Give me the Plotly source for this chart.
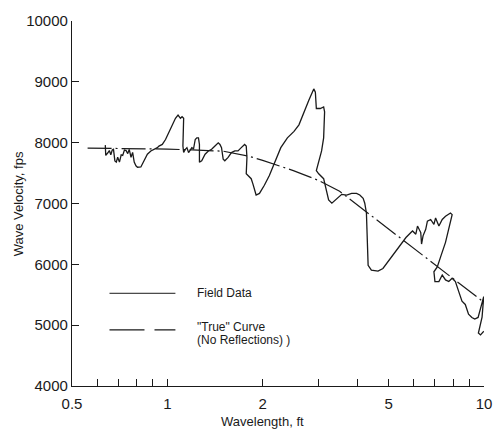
import plotly.graph_objects as go

# Field data (wavelength ft, velocity fps)
field_wavelength = [
    0.637, 0.639, 0.648, 0.656, 0.663, 0.670, 0.676, 0.683, 0.690, 0.697,
    0.706, 0.715, 0.723, 0.732, 0.741, 0.750, 0.758, 0.768, 0.777, 0.786,
    0.796, 0.805, 0.825, 0.845, 0.865, 0.887, 0.908, 0.930, 0.941, 0.964,
    0.987, 1.010, 1.036, 1.061, 1.081, 1.100, 1.113, 1.126, 1.120, 1.126,
    1.140, 1.153, 1.167, 1.195, 1.210, 1.225, 1.239, 1.254, 1.263, 1.263,
    1.284, 1.316, 1.348, 1.380, 1.414, 1.448, 1.466, 1.483, 1.501, 1.519,
    1.556, 1.594, 1.633, 1.672, 1.712, 1.754, 1.775, 1.784, 1.775, 1.840,
    1.862, 1.885, 1.907, 1.954, 2.025, 2.100, 2.176, 2.282, 2.394, 2.512,
    2.604, 2.699, 2.798, 2.900, 2.934, 2.955, 3.041, 3.116, 3.138, 3.116,
    3.070, 2.955, 3.006, 3.116, 3.175, 3.231, 3.308, 3.429, 3.554, 3.684,
    3.819, 3.958, 4.053, 4.153, 4.202, 4.253, 4.270, 4.306, 4.409, 4.627,
    4.796, 4.971, 5.212, 5.470, 5.670, 5.877, 5.948, 6.091, 6.166, 6.314,
    6.350, 6.420, 6.546, 6.626, 6.785, 6.948, 7.033, 7.204, 7.381, 7.559,
    7.836, 7.932, 7.559, 7.290, 7.120, 6.948, 7.000, 7.204, 7.381, 7.559,
    7.741, 7.932, 8.122, 8.317, 8.522, 8.727, 8.937, 9.157, 9.350, 9.580,
    9.860, 9.980, 9.860, 9.600, 9.750, 9.990,
]
field_velocity = [
    7960, 7790, 7830, 7870, 7800, 7880, 7890, 7700, 7680, 7760,
    7680, 7800, 7790, 7880, 7870, 7820, 7890, 7760, 7840, 7680,
    7620, 7596, 7600, 7700, 7810, 7864, 7890, 7918, 7944, 7971,
    8052, 8160, 8266, 8401, 8454, 8401, 8427, 8401, 7944, 7838,
    7891, 7918, 7838, 7918, 7900, 8052, 8079, 8079, 7971, 7680,
    7703, 7810, 7864, 7891, 7945, 7998, 7971, 7918, 7730, 7703,
    7757, 7837, 7864, 7864, 7918, 7971, 7945, 7757, 7488, 7408,
    7327, 7220, 7140, 7166, 7300, 7461, 7649, 7918, 8079, 8186,
    8293, 8508, 8696, 8884, 8830, 8562, 8562, 8589, 8508, 8079,
    7864, 7542, 7488, 7408, 7247, 7059, 7005, 7086, 7150, 7139,
    7166, 7166, 7139, 7086, 7005, 6844, 6361, 5985, 5905, 5889,
    5932, 6039, 6200, 6334, 6441, 6522, 6549, 6495, 6629, 6522,
    6334, 6468, 6576, 6710, 6737, 6656, 6763, 6629, 6737, 6790,
    6844, 6817, 6361, 6119, 5958, 5878, 5717, 5717, 5824, 5744,
    5717, 5771, 5717, 5556, 5395, 5341, 5180, 5127, 5100, 5127,
    5341, 5470, 5130, 4870, 4840, 4900,
]

# "True" curve (no reflections)
true_wavelength = [0.56, 0.8, 1.0, 1.2, 1.5, 1.8, 2.0, 2.5, 3.0, 3.5,
                   4.0, 4.5, 5.0, 6.0, 7.0, 8.0, 9.0, 10.0]
true_velocity = [7910, 7905, 7895, 7880, 7860, 7780, 7710, 7540, 7380, 7200,
                 6970, 6765, 6580, 6265, 5995, 5765, 5560, 5375]

x_tickvals = [0.5, 0.6, 0.7, 0.8, 0.9, 1, 2, 3, 4, 5, 6, 7, 8, 9, 10]
x_ticktext = ["0.5", "", "", "", "", "1", "2", "", "", "5", "", "", "", "", "10"]
y_tickvals = [4000, 5000, 6000, 7000, 8000, 9000, 10000]
y_ticktext = ["4000", "5000", "6000", "7000", "8000", "9000", "10000"]

FONT = "Liberation Sans, Arial, sans-serif"
INK = "#1a1a1a"

fig = go.Figure()
fig.add_trace(go.Scatter(
    x=true_wavelength, y=true_velocity, mode="lines",
    line=dict(color=INK, width=1.2, dash="24px,4px,2px,4px"),
    showlegend=False, hoverinfo="skip"))
fig.add_trace(go.Scatter(
    x=field_wavelength, y=field_velocity, mode="lines",
    line=dict(color=INK, width=1.3),
    showlegend=False, hoverinfo="skip"))

# legend drawn inside the plot (paper coordinates)
fig.add_shape(type="line", xref="paper", yref="paper",
              x0=0.091, x1=0.251, y0=0.254, y1=0.254,
              line=dict(color=INK, width=1))
fig.add_shape(type="line", xref="paper", yref="paper",
              x0=0.091, x1=0.251, y0=0.154, y1=0.154,
              line=dict(color=INK, width=1.2, dash="35px,10px"))
ann = dict(xref="paper", yref="paper", showarrow=False, xanchor="left",
           yanchor="middle", font=dict(family=FONT, size=12, color=INK))
fig.add_annotation(x=0.299, y=0.254, text="Field Data", **ann)
fig.add_annotation(x=0.299, y=0.162, text='"True" Curve', **ann)
fig.add_annotation(x=0.299, y=0.125, text="(No Reflections) )", **ann)

# axis titles
fig.add_annotation(x=-0.129, y=0.5, xref="paper", yref="paper", showarrow=False,
                   text="Wave Velocity, fps", textangle=-90,
                   xanchor="center", yanchor="middle",
                   font=dict(family=FONT, size=13, color=INK))
fig.add_annotation(x=0.4617, y=-0.098, xref="paper", yref="paper", showarrow=False,
                   text="Wavelength, ft", xanchor="center", yanchor="middle",
                   font=dict(family=FONT, size=13, color=INK))

fig.update_xaxes(type="log", range=[-0.30103, 1.0],
                 tickvals=x_tickvals, ticktext=x_ticktext,
                 ticks="inside", ticklen=7, tickwidth=1, tickcolor=INK,
                 ticklabelstandoff=4,
                 showline=True, linecolor=INK, linewidth=1.3,
                 showgrid=False, zeroline=False, mirror=False,
                 tickfont=dict(family=FONT, size=15, color=INK))
fig.update_yaxes(range=[4000, 10000],
                 tickvals=y_tickvals, ticktext=y_ticktext,
                 ticks="inside", ticklen=7, tickwidth=1, tickcolor=INK,
                 showline=True, linecolor=INK, linewidth=1.3,
                 showgrid=False, zeroline=False, mirror=False,
                 tickfont=dict(family=FONT, size=15, color=INK))

fig.update_layout(width=504, height=432,
                  margin=dict(l=72, r=14, t=14, b=46),
                  paper_bgcolor="white", plot_bgcolor="white",
                  showlegend=False)

fig.write_html("out.html")
